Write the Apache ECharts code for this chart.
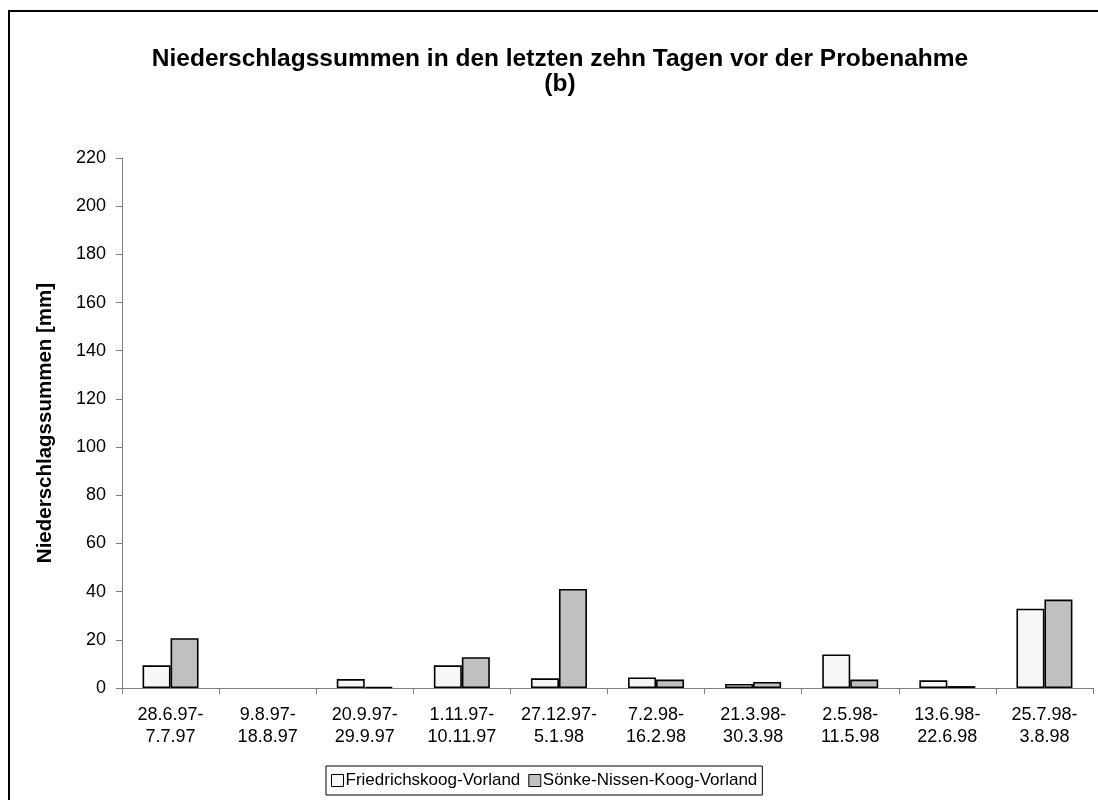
<!DOCTYPE html>
<html>
<head>
<meta charset="utf-8">
<script src="https://cdn.jsdelivr.net/npm/echarts@6/dist/echarts.min.js"></script>
<style>html,body{margin:0;padding:0;background:#fff}#c{width:1098px;height:800px}</style>
</head>
<body>
<div id="c"></div>
<script>
const categories = ["28.6.97-\n7.7.97","9.8.97-\n18.8.97","20.9.97-\n29.9.97","1.11.97-\n10.11.97","27.12.97-\n5.1.98","7.2.98-\n16.2.98","21.3.98-\n30.3.98","2.5.98-\n11.5.98","13.6.98-\n22.6.98","25.7.98-\n3.8.98"];
const friedrichskoog = [9.4, 0, 3.7, 9.4, 4.0, 4.4, 1.7, 13.9, 3.2, 32.9];
const soenkeNissen = [20.7, 0, 0.4, 12.8, 41.1, 3.5, 2.5, 3.5, 0.8, 36.7];
const yTicks = {min: 0, max: 220, interval: 20};

// zero-height bars are not drawn in the reference
const toBars = arr => arr.map(v => (v === 0 ? '-' : v));

const chart = echarts.init(document.getElementById('c'), null, {renderer: 'canvas'});
const FONT = 'Liberation Sans, Arial, sans-serif';
chart.setOption({
  animation: false,
  backgroundColor: '#fff',
  graphic: [{type: 'rect', shape: {x: 9, y: 11, width: 1200, height: 1000}, style: {fill: 'none', stroke: '#000', lineWidth: 2}, silent: true}],
  title: {
    text: 'Niederschlagssummen in den letzten zehn Tagen vor der Probenahme\n(b)',
    left: 555, top: 42, textAlign: 'center',
    textStyle: {fontFamily: FONT, fontSize: 24.5, fontWeight: 'bold', color: '#000', lineHeight: 25}
  },
  legend: {
    left: 326, top: 766,
    padding: [6, 5, 6, 5],
    borderColor: '#000', borderWidth: 1,
    icon: 'rect',
    itemWidth: 12, itemHeight: 12, itemGap: 8,
    textStyle: {fontFamily: FONT, fontSize: 17, color: '#000', padding: [0, 0, 0, -3]},
    itemStyle: {borderColor: '#000', borderWidth: 1},
    data: ['Friedrichskoog-Vorland', 'Sönke-Nissen-Koog-Vorland']
  },
  grid: {left: 122, right: 5, top: 158, bottom: 112},
  xAxis: {
    type: 'category', data: categories,
    axisLine: {lineStyle: {color: '#808080', width: 1}},
    axisTick: {show: true, length: 6, lineStyle: {color: '#808080'}},
    axisLabel: {fontFamily: FONT, fontSize: 18, color: '#000', margin: 16, lineHeight: 22, interval: 0}
  },
  yAxis: {
    type: 'value', min: yTicks.min, max: yTicks.max, interval: yTicks.interval,
    name: 'Niederschlagssummen [mm]', nameLocation: 'middle', nameGap: 66, nameRotate: 90,
    nameTextStyle: {fontFamily: FONT, fontSize: 20.5, fontWeight: 'bold', color: '#000'},
    axisLine: {show: true, lineStyle: {color: '#808080', width: 1}},
    axisTick: {show: true, length: 6, lineStyle: {color: '#808080'}},
    splitLine: {show: false},
    axisLabel: {fontFamily: FONT, fontSize: 18, color: '#000', margin: 16}
  },
  series: [
    {name: 'Friedrichskoog-Vorland', type: 'bar', data: toBars(friedrichskoog), barWidth: 28, barGap: '0%',
     itemStyle: {color: '#f7f7f7', borderColor: '#000', borderWidth: 1.6}},
    {name: 'Sönke-Nissen-Koog-Vorland', type: 'bar', data: toBars(soenkeNissen), barWidth: 28, barGap: '0%',
     itemStyle: {color: '#c0c0c0', borderColor: '#000', borderWidth: 1.6}}
  ]
});
</script>
</body>
</html>
